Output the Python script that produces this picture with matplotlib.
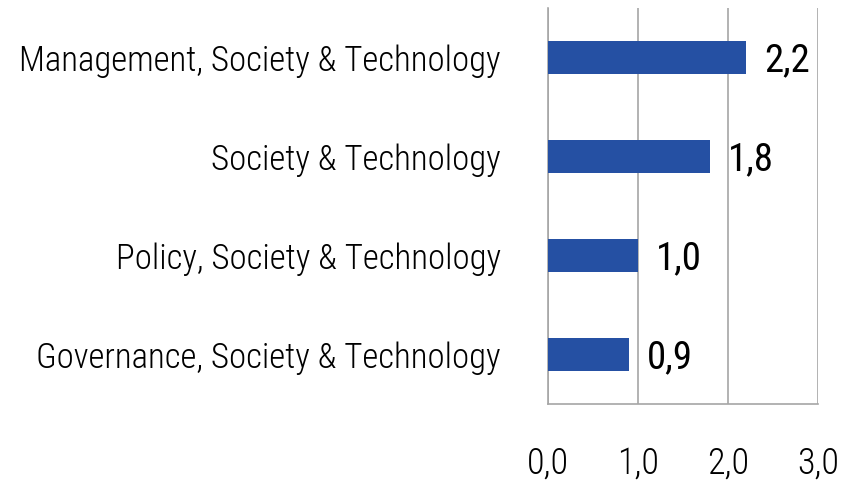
import matplotlib.pyplot as plt
from matplotlib import font_manager

# Categories, bottom to top as drawn.
categories = ["Governance, Society & Technology", "Policy, Society & Technology",
              "Society & Technology", "Management, Society & Technology"]
values = [0.9, 1.0, 1.8, 2.2]
xticks = [0, 1, 2, 3]

# Narrow light face like the original; take the first one installed in a light cut.
light = {}
for f in font_manager.fontManager.ttflist:
    w = f.weight if isinstance(f.weight, int) else 400
    light[f.name] = min(light.get(f.name, 1000), w)
wanted = ["Open Sans Condensed Light", "Open Sans Condensed", "Roboto Condensed",
          "Fira Sans Condensed", "Encode Sans Condensed"]
pick = [n for n in wanted if light.get(n, 1000) <= 300][:1]
plt.rcParams["font.family"] = pick + ["DejaVu Sans"]
plt.rcParams["font.weight"] = 300

fig = plt.figure(figsize=(8.54, 4.86), dpi=100)
ax = fig.add_axes([548 / 854, 1 - 404 / 486, 270 / 854, 396 / 486])

ax.barh(range(len(categories)), values, height=0.34, color="#2550A3", zorder=3)

# Value labels at bar ends.
for i, v in enumerate(values):
    ax.annotate(f"{v:.1f}".replace(".", ","), (v, i), xytext=(13, -2),
                textcoords="offset points", va="center", ha="left",
                fontsize=28, fontweight=400)

ax.set_xlim(0, 3)
ax.set_ylim(-0.5, len(categories) - 0.5)
ax.set_xticks(xticks)
ax.set_xticklabels([f"{t:.1f}".replace(".", ",") for t in xticks], fontsize=26)
ax.set_yticks(range(len(categories)))
ax.set_yticklabels(categories, fontsize=25)
ax.tick_params(axis="x", length=0, pad=30)
ax.tick_params(axis="y", length=0, pad=34)

ax.grid(axis="x", color="#A6A6A6", linewidth=1.2, zorder=0)
for side in ["top", "right"]:
    ax.spines[side].set_visible(False)
for side in ["left", "bottom"]:
    ax.spines[side].set_color("#A6A6A6")
    ax.spines[side].set_linewidth(1.2)

plt.savefig("out.png", dpi=100)
